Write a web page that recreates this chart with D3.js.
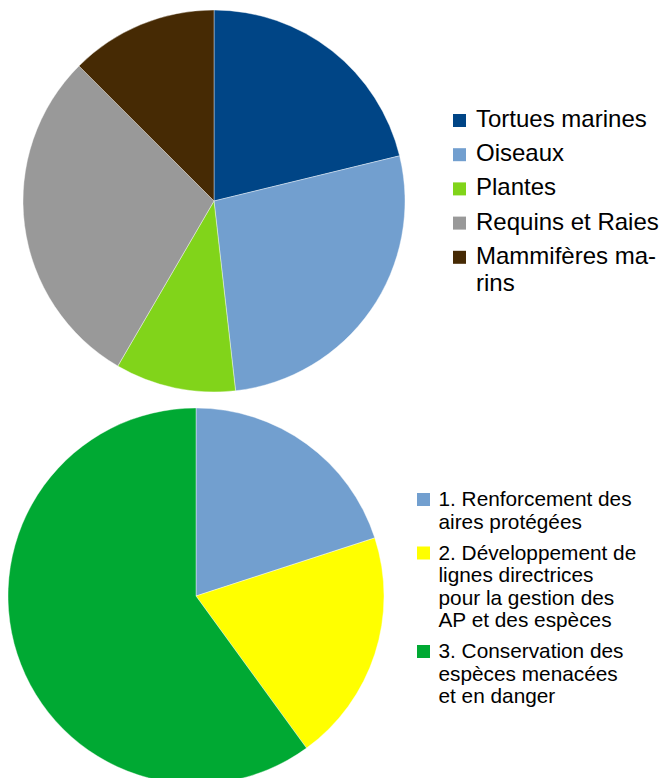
<!DOCTYPE html>
<html><head><meta charset="utf-8">
<script src="https://cdn.jsdelivr.net/npm/d3@7"></script>
<style>body{margin:0;background:#fff}svg{display:block}text{font-family:"Liberation Sans",Arial,sans-serif;fill:#000}</style>
</head><body>
<script>
// Top chart data
const groupCategories = ["Tortues marines", "Oiseaux", "Plantes", "Requins et Raies", "Mammifères marins"];
const groupLabelLines = [["Tortues marines"], ["Oiseaux"], ["Plantes"], ["Requins et Raies"], ["Mammifères ma-", "rins"]];
const groupValues = [21.2, 27.0, 10.2, 29.1, 12.5];
const groupColors = ["#004586", "#729fcf", "#81d41a", "#999999", "#462a04"];

// Bottom chart data
const axisCategories = ["1. Renforcement des aires protégées", "2. Développement de lignes directrices pour la gestion des AP et des espèces", "3. Conservation des espèces menacées et en danger"];
const axisLabelLines = [["1. Renforcement des", "aires protégées"], ["2. Développement de", "lignes directrices", "pour la gestion des", "AP et des espèces"], ["3. Conservation des", "espèces menacées", "et en danger"]];
const axisValues = [20, 20, 60];
const axisColors = ["#729fcf", "#ffff00", "#00a933"];

const W = 659, H = 778;
const svg = d3.select("body").append("svg").attr("width", W).attr("height", H);

function drawPie(values, colors, cx, cy, r) {
  const pie = d3.pie().sort(null).value(d => d);
  const arc = d3.arc().innerRadius(0).outerRadius(r);
  const g = svg.append("g").attr("transform", `translate(${cx},${cy})`);
  g.selectAll("path").data(pie(values)).join("path")
    .attr("d", arc).attr("fill", (d, i) => colors[i])
    .attr("stroke", "#fff").attr("stroke-width", 0.4);
}

function drawLegend(lines, colors, x, tx, y0, fontSize, lineH, gap, sq, sqOff) {
  const g = svg.append("g");
  let y = y0;
  lines.forEach((ls, i) => {
    g.append("rect").attr("x", x).attr("y", y - sqOff).attr("width", sq).attr("height", sq).attr("fill", colors[i]);
    const t = g.append("text").attr("x", tx).attr("y", y).attr("font-size", fontSize);
    ls.forEach((l, j) => {
      t.append("tspan").attr("x", tx).attr("y", y + j * lineH).text(l);
    });
    y += (ls.length - 1) * lineH + gap;
  });
}

drawPie(groupValues, groupColors, 214, 201, 191);
drawPie(axisValues, axisColors, 196, 596, 188);

drawLegend(groupLabelLines, groupColors, 453, 476, 127, 24, 27, 34.2, 13, 13);
drawLegend(axisLabelLines, axisColors, 417, 438.5, 506, 20.8, 22.5, 31, 13, 13);
</script>
</body></html>
